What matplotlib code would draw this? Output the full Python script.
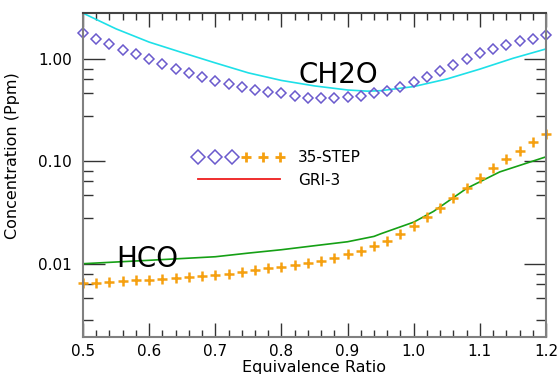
import matplotlib
matplotlib.use('Agg')
import matplotlib.pyplot as plt
from matplotlib.lines import Line2D
from matplotlib.legend_handler import HandlerTuple
from matplotlib.ticker import FixedLocator, FormatStrFormatter
import numpy as np

plt.rcParams['font.family'] = ['DejaVu Sans']

# equivalence ratio grid of the 35-step mechanism points
phi_step = [0.50, 0.52, 0.54, 0.56, 0.58, 0.60, 0.62, 0.64, 0.66, 0.68, 0.70, 0.72,
            0.74, 0.76, 0.78, 0.80, 0.82, 0.84, 0.86, 0.88, 0.90, 0.92, 0.94, 0.96,
            0.98, 1.00, 1.02, 1.04, 1.06, 1.08, 1.10, 1.12, 1.14, 1.16, 1.18, 1.20]

ch2o_step = [1.79, 1.57, 1.40, 1.23, 1.12, 1.00, 0.90, 0.80, 0.735, 0.672, 0.614, 0.574,
             0.533, 0.505, 0.476, 0.463, 0.438, 0.422, 0.422, 0.422, 0.431, 0.441, 0.466, 0.494,
             0.533, 0.604, 0.676, 0.774, 0.880, 1.01, 1.15, 1.26, 1.38, 1.49, 1.58, 1.73]

hco_step = [0.00643, 0.00652, 0.00667, 0.00678, 0.00689, 0.00698, 0.00714, 0.00730, 0.00747,
            0.00764, 0.00781, 0.00799, 0.00837, 0.00868, 0.00902, 0.00935, 0.00971, 0.0101,
            0.0107, 0.0114, 0.0124, 0.0134, 0.0150, 0.0168, 0.0196, 0.0233, 0.0284, 0.0352,
            0.0435, 0.0545, 0.0687, 0.0855, 0.1047, 0.127, 0.154, 0.185]

# GRI-3 curves
phi_gri_ch2o = [0.50, 0.55, 0.60, 0.65, 0.70, 0.75, 0.80, 0.85, 0.90, 0.93, 0.95,
                1.00, 1.05, 1.10, 1.15, 1.20]
ch2o_gri = [2.82, 1.98, 1.47, 1.16, 0.92, 0.735, 0.62, 0.548, 0.50, 0.487, 0.492,
            0.54, 0.64, 0.80, 1.02, 1.26]

phi_gri_hco = [0.50, 0.60, 0.70, 0.75, 0.80, 0.85, 0.90, 0.94, 0.95, 1.00, 1.03,
               1.08, 1.13, 1.20]
hco_gri = [0.0100, 0.0108, 0.0117, 0.0127, 0.0137, 0.0150, 0.0164, 0.0185, 0.0196,
           0.0255, 0.0325, 0.0545, 0.079, 0.111]

x_ticks = [0.5, 0.6, 0.7, 0.8, 0.9, 1.0, 1.1, 1.2]
y_ticks = [0.01, 0.1, 1.0]
y_tick_labels = ['0.01', '0.10', '1.00']

col_diamond = '#6a5acd'
col_plus = '#f5a010'
col_cyan = '#1ee0e8'
col_green = '#15a015'
col_red = '#ee1c1c'
col_spine = '#808080'

fig = plt.figure(figsize=(5.6, 3.74), dpi=100)
ax = fig.add_axes([83 / 560, 1 - 337 / 374, 463 / 560, 324 / 374])

ax.plot(phi_gri_ch2o, ch2o_gri, color=col_cyan, lw=1.2)
ax.plot(phi_gri_hco, hco_gri, color=col_green, lw=1.2)
ax.plot(phi_step, ch2o_step, ls='none', marker='D', ms=4.6, mfc='none',
        mec=col_diamond, mew=1.1, clip_on=False)
ax.plot(phi_step, hco_step, ls='none', marker='+', ms=6.5, mec=col_plus,
        mew=1.8, clip_on=False)

ax.set_yscale('log')
ax.set_xlim(0.5, 1.2)
ax.set_ylim(0.00192, 2.83)

ax.xaxis.set_major_locator(FixedLocator(x_ticks))
ax.xaxis.set_minor_locator(FixedLocator(np.arange(0.5, 1.201, 0.02)))
ax.xaxis.set_major_formatter(FormatStrFormatter('%.1f'))
ax.yaxis.set_major_locator(FixedLocator(y_ticks))
ax.set_yticklabels(y_tick_labels)
minor_y = [d * f for d in [0.01, 0.1, 1.0] for f in [0.8, 0.64, 0.465, 0.28]]
ax.yaxis.set_minor_locator(FixedLocator(minor_y))
ax.yaxis.set_minor_formatter(plt.NullFormatter())

ax.tick_params(axis='x', which='major', direction='in', length=10, width=1,
               top=True, labelsize=11, pad=5, color='#333333')
ax.tick_params(axis='x', which='minor', direction='in', length=5, width=1,
               top=True, color='#333333')
ax.tick_params(axis='y', which='major', direction='in', length=16, width=1,
               right=True, labelsize=11, pad=8, color='#333333')
ax.tick_params(axis='y', which='minor', direction='in', length=7.5, width=1,
               right=True, color='#333333')

for s in ax.spines.values():
    s.set_color(col_spine)
    s.set_linewidth(1.5)
ax.spines['top'].set_color('#444444')

ax.set_xlabel('Equivalence Ratio', fontsize=11.5, labelpad=1)
ax.set_ylabel('Concentration (Ppm)', fontsize=11.5)
ax.yaxis.set_label_coords(-0.135, 0.56)

ax.text(0.8865, 0.59, 'CH2O', fontsize=20, ha='center', va='baseline')
ax.text(0.5975, 0.0092, 'HCO', fontsize=20, ha='center', va='baseline')

h_dia = Line2D([], [], ls='none', marker='D', ms=7, mfc='none', mec=col_diamond, mew=1.1)
h_plus = Line2D([], [], ls='none', marker='+', ms=7, mec=col_plus, mew=2)
h_red = Line2D([], [], color=col_red, lw=1.3)
ax.legend([(h_dia, h_plus), h_red], ['35-STEP', 'GRI-3'], numpoints=3,
          handler_map={tuple: HandlerTuple(ndivide=None, pad=0.35)},
          handlelength=6.0, handletextpad=0.86, labelspacing=0.5, frameon=False,
          fontsize=11, loc='upper left', bbox_to_anchor=(0.2376, 0.577),
          borderpad=0, borderaxespad=0)

fig.savefig('out.png', dpi=100)
